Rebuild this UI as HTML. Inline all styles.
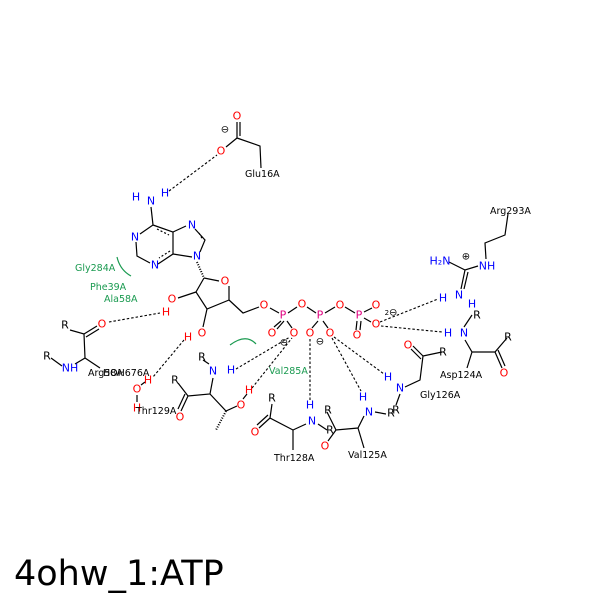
<!DOCTYPE html>
<html><head><meta charset="utf-8"><style>
html,body{margin:0;padding:0;background:#fff;width:600px;height:600px;overflow:hidden}
svg{display:block}
text{font-family:"DejaVu Sans","Liberation Sans",sans-serif}
.a{font-size:11px;text-anchor:middle;dominant-baseline:central}
.r{font-size:9.5px;fill:#000}
.g{font-size:9.5px;fill:#1a9a50}
.O{fill:#f00}.N{fill:#00f}.P{fill:#e0007f}
</style></head><body>
<svg width="600" height="600" viewBox="0 0 600 600">
<g stroke="#000" stroke-width="1.2" fill="none">
<path d="M237,122 L237,138 M240,122 L240,136 M237,138 L226,147 M237,138 L260,146 L261,168"/>
<path d="M151,207 L153,225 L140,234 M136,242 L137,256 L150,263 M158,264 L173,254 L173,232 L153,225 M173,232 L186,226 M195,229 L205,240 L200,252 M192,257 L173,254"/>
<path d="M157,229 L169,235 M170,251 L159,258 M199,233 L203,240" stroke-dasharray="2,2"/>
<path d="M204,278 L219,281 M229,286 L229,300 L207,309 L196,292 L204,278 M229,300 L243,313 L259,307 M207,309 L203,327 M196,292 L178,298"/>
<path d="M197,262 L204,278" stroke-dasharray="1,1.5" stroke-width="2"/>
<path d="M270,308 L279,313 M288,313 L297,307 M307,307 L316,313 M325,313 L335,307 M345,307 L355,313 M364,312 L372,308 M281,321 L274,327 M284,321 L277,329 M287,321 L292,328 M318,321 L312,328 M323,321 L328,328 M357,321 L356,330 M361,321 L360,330 M364,318 L371,322"/>
<path d="M508,214 L505,235 L485,243 L486,259 M449,262 L465,270 L478,266 M465,270 L461,289 M468,272 L464,289"/>
<path d="M464,327 L472,315 M465,340 L472,352 L495,352 L507,338 M495,352 L502,368 M498,350 L505,366 M472,352 L467,368"/>
<path d="M413,346 L423,356 M411,349 L421,359 M423,356 L442,352 M423,356 L420,380 L405,387 M400,394 L396,405"/>
<path d="M375,412 L386,414 M364,416 L358,428 L336,430 L327,412 M336,430 L328,441 M358,428 L364,448"/>
<path d="M318,424 L327,430 M306,424 L293,430 L270,418 L272,404 M270,418 L259,428 M268,415 L257,425 M293,430 L293,450"/>
<path d="M209,364 L203,360 M213,378 L210,394 L188,396 L178,383 M188,396 L181,411 M185,394 L178,409 M210,394 L226,411 L237,406 M243,399 L247,394"/>
<path d="M226,411 L216,430" stroke-dasharray="1,1.5" stroke-width="2"/>
<path d="M70,330 L84,334 L97,326 M86,337 L99,329 M84,334 L85,358 L75,364 M62,366 L51,358 M85,358 L100,368"/>
<path d="M137,395 L137,402 M141,385 L145,382"/>
</g>
<g stroke="#1a9a50" stroke-width="1.2" fill="none">
<path d="M117,257 Q120,270 131,276"/>
<path d="M230,345 Q246,333 256,344"/>
</g>
<g stroke="#000" stroke-width="1.1" stroke-dasharray="2.5,2" fill="none">
<path d="M169,191 L217,155"/>
<path d="M109,322 L160,313"/>
<path d="M184,340 L153,377"/>
<path d="M236,369 L290,337"/>
<path d="M252,388 L292,338"/>
<path d="M310,339 L310,400"/>
<path d="M332,338 L361,391"/>
<path d="M334,337 L384,374"/>
<path d="M380,322 L438,299"/>
<path d="M381,326 L442,332"/>
</g>
<g class="a">
<text x="237" y="116" class="O">O</text>
<text x="221" y="151" class="O">O</text>
<text x="225" y="130" font-size="10">⊖</text>
<text x="151" y="201" class="N">N</text>
<text x="136" y="197" class="N">H</text>
<text x="165" y="193" class="N">H</text>
<text x="135" y="237" class="N">N</text>
<text x="155" y="265" class="N">N</text>
<text x="192" y="225" class="N">N</text>
<text x="197" y="256" class="N">N</text>
<text x="225" y="281" class="O">O</text>
<text x="172" y="299" class="O">O</text>
<text x="166" y="312" class="O">H</text>
<text x="202" y="333" class="O">O</text>
<text x="188" y="337" class="O">H</text>
<text x="264" y="305" class="O">O</text>
<text x="283" y="315" class="P">P</text>
<text x="302" y="304" class="O">O</text>
<text x="320" y="315" class="P">P</text>
<text x="340" y="305" class="O">O</text>
<text x="359" y="315" class="P">P</text>
<text x="272" y="333" class="O">O</text>
<text x="294" y="333" class="O">O</text>
<text x="310" y="333" class="O">O</text>
<text x="330" y="333" class="O">O</text>
<text x="376" y="305" class="O">O</text>
<text x="376" y="324" class="O">O</text>
<text x="357" y="335" class="O">O</text>
<text x="284" y="343" font-size="10">⊖</text>
<text x="320" y="342" font-size="10">⊖</text>
<text x="391" y="313" font-size="10"><tspan font-size="7">2</tspan>⊖</text>
<text x="440" y="261" class="N">H₂N</text>
<text x="487" y="266" class="N">NH</text>
<text x="466" y="257" font-size="10">⊕</text>
<text x="459" y="295" class="N">N</text>
<text x="443" y="298" class="N">H</text>
<text x="472" y="304" class="N">H</text>
<text x="464" y="333" class="N">N</text>
<text x="448" y="333" class="N">H</text>
<text x="477" y="315">R</text>
<text x="508" y="337">R</text>
<text x="504" y="373" class="O">O</text>
<text x="408" y="345" class="O">O</text>
<text x="443" y="352">R</text>
<text x="400" y="388" class="N">N</text>
<text x="388" y="377" class="N">H</text>
<text x="396" y="410">R</text>
<text x="369" y="412" class="N">N</text>
<text x="363" y="397" class="N">H</text>
<text x="391" y="413">R</text>
<text x="328" y="410">R</text>
<text x="325" y="446" class="O">O</text>
<text x="312" y="421" class="N">N</text>
<text x="310" y="405" class="N">H</text>
<text x="330" y="430">R</text>
<text x="272" y="398">R</text>
<text x="255" y="432" class="O">O</text>
<text x="213" y="371" class="N">N</text>
<text x="231" y="370" class="N">H</text>
<text x="202" y="357">R</text>
<text x="175" y="380">R</text>
<text x="180" y="417" class="O">O</text>
<text x="241" y="405" class="O">O</text>
<text x="249" y="390" class="O">H</text>
<text x="65" y="325">R</text>
<text x="102" y="324" class="O">O</text>
<text x="70" y="368" class="N">NH</text>
<text x="47" y="356">R</text>
<text x="137" y="389" class="O">O</text>
<text x="148" y="380" class="O">H</text>
<text x="137" y="408" class="O">H</text>
</g>
<g>
<text x="245" y="177" class="r">Glu16A</text>
<text x="490" y="214" class="r">Arg293A</text>
<text x="440" y="378" class="r">Asp124A</text>
<text x="420" y="398" class="r">Gly126A</text>
<text x="348" y="458" class="r">Val125A</text>
<text x="274" y="461" class="r">Thr128A</text>
<text x="136" y="414" class="r">Thr129A</text>
<text x="88" y="376" class="r">Arg58A</text>
<text x="103" y="376" class="r">HOH676A</text>
<text x="75" y="271" class="g">Gly284A</text>
<text x="90" y="290" class="g">Phe39A</text>
<text x="104" y="302" class="g">Ala58A</text>
<text x="269" y="374" class="g">Val285A</text>
<text x="14" y="585" font-size="35">4ohw_1:ATP</text>
</g>
</svg>
</body></html>
